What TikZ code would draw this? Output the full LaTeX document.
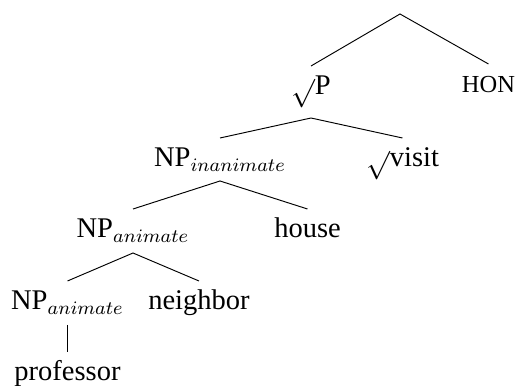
\documentclass[tikz,border=0pt]{standalone}
\usepackage{fontspec}
\setmainfont{Liberation Serif}
\usetikzlibrary{calc}
\tikzset{
  lbl/.style={anchor=base, inner sep=0pt, font=\fontsize{12}{14}\selectfont},
  hon/.style={anchor=base, inner sep=0pt, font=\fontsize{10.3}{12}\selectfont},
  branch/.style={line width=0.4pt, black}
}
\begin{document}
\begin{tikzpicture}[x=0.421pt,y=-0.421pt]
\useasboundingbox (0,0) rectangle (516,386);
\coordinate (root) at (400,14);
\node[lbl] (vP) at (311,95) {$\sqrt{}$P};
\node[hon] (hon) at (488.5,93) {HON};
\node[lbl] (npi) at (220,167) {NP$_{inanimate}$};
\node[lbl] (visit) at (402.5,167) {$\sqrt{}$visit};
\node[lbl] (npa) at (133,238) {NP$_{animate}$};
\node[lbl] (house) at (307.5,238) {house};
\node[lbl] (npl) at (67.5,310) {NP$_{animate}$};
\node[lbl] (neighbor) at (199,310) {neighbor};
\node[lbl] (prof) at (67.5,381) {professor};
\draw[branch] ($(vP.base)+(0,-29)$) -- (root) -- ($(hon.base)+(0,-29)$);
\draw[branch] ($(npi.base)+(0,-29)$) -- ($(vP.base)+(0,23)$) -- ($(visit.base)+(0,-29)$);
\draw[branch] ($(npa.base)+(0,-29)$) -- ($(npi.base)+(0,14)$) -- ($(house.base)+(0,-29)$);
\draw[branch] ($(npl.base)+(0,-29)$) -- ($(npa.base)+(0,15)$) -- ($(neighbor.base)+(0,-29)$);
\draw[branch] ($(npl.base)+(0,15)$) -- ($(prof.base)+(0,-29)$);
\end{tikzpicture}
\end{document}
